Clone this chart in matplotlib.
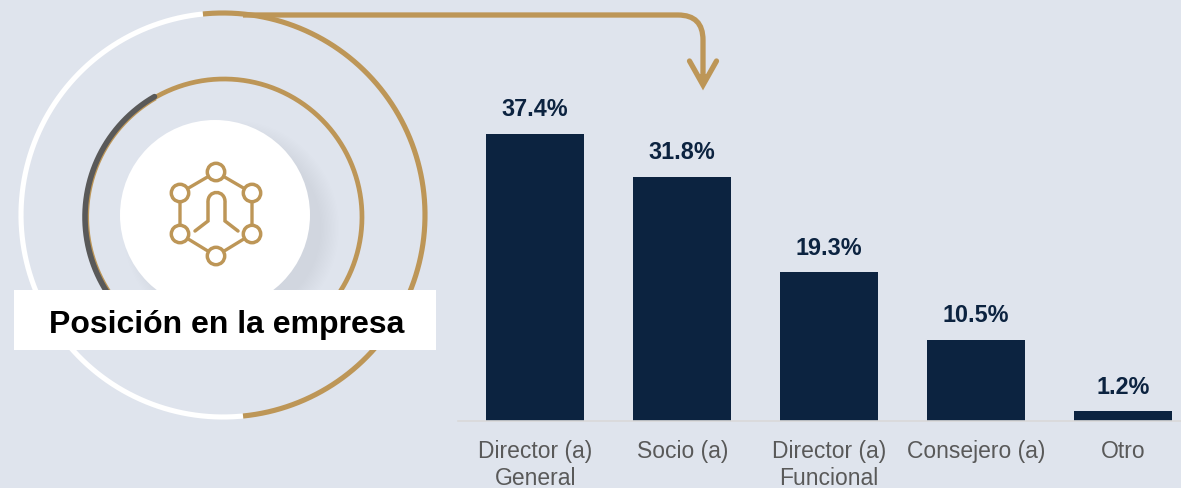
import matplotlib
matplotlib.use("Agg")
import matplotlib.pyplot as plt
from matplotlib.patches import Circle, Rectangle, PathPatch, Polygon
from matplotlib.path import Path
import numpy as np

# Chart data
categories = ["Director (a)\nGeneral", "Socio (a)", "Director (a)\nFuncional", "Consejero (a)", "Otro"]
values = [37.4, 31.8, 19.3, 10.5, 1.2]

BG = "#DFE4ED"
GOLD = "#BD9657"
NAVY = "#0C2340"
GREY = "#595959"
W, H = 1181, 488

plt.rcParams["font.family"] = ["Liberation Sans", "DejaVu Sans"]

fig = plt.figure(figsize=(W / 100, H / 100), dpi=100, facecolor=BG)

# Overlay in pixel coordinates for the decoration on the left
deco = fig.add_axes([0, 0, 1, 1], facecolor="none")
deco.set_xlim(0, W)
deco.set_ylim(H, 0)
deco.axis("off")


def arc(cx, cy, r, a0, a1, color, lw, zorder=2, cap="butt"):
    t = np.radians(np.linspace(a0, a1, 200))
    deco.plot(cx + r * np.cos(t), cy - r * np.sin(t), color=color, lw=lw,
              solid_capstyle=cap, zorder=zorder)


# Outer ring
arc(223, 215, 202, 95.7, 275.7, "white", 3.7)
arc(223, 215, 202, -84.3, 95.7, GOLD, 3.7)

# Inner ring
arc(224, 217, 138, -45, 120, GOLD, 3.4)
arc(224, 217, 136, 120, 225, GOLD, 1.5)
arc(224, 217, 139, 120, 225, GREY, 4.0, zorder=3, cap="round")

# Soft shadow and centre disc
for r in np.linspace(108, 90, 14):
    deco.add_patch(Circle((231, 228), r, facecolor="#8090A8", edgecolor="none", alpha=0.008, zorder=4))
deco.add_patch(Circle((215, 215), 95, facecolor="white", edgecolor="none", zorder=5))

# Icon: hexagon of nodes
nodes_x = [216, 252, 252, 216, 180, 180]
nodes_y = [172, 193, 234, 256, 234, 193]
deco.plot(nodes_x + nodes_x[:1], nodes_y + nodes_y[:1], color=GOLD, lw=2.4, zorder=6)
for nx, ny in zip(nodes_x, nodes_y):
    deco.add_patch(Circle((nx, ny), 8.7, facecolor="white", edgecolor=GOLD, lw=2.5, zorder=7))

# Icon: person
person = Path(
    [(195, 231), (208, 221), (208, 203), (207, 189), (226, 189), (225, 203), (225, 221), (238, 231)],
    [Path.MOVETO, Path.LINETO, Path.LINETO, Path.CURVE4, Path.CURVE4, Path.CURVE4, Path.LINETO, Path.LINETO],
)
deco.add_patch(PathPatch(person, facecolor="none", edgecolor=GOLD, lw=2.5, capstyle="round", zorder=7))

# Title box
deco.add_patch(Rectangle((14, 290), 422, 60, facecolor="white", edgecolor="none", zorder=8))
deco.text(226.5, 325, "Posición en la empresa", ha="center", va="center", fontsize=23,
          fontweight="bold", color="black", zorder=9)

# Connector arrow
arrow = Path(
    [(243, 15), (678, 15), (703, 15), (703, 40), (703, 80)],
    [Path.MOVETO, Path.LINETO, Path.CURVE3, Path.CURVE3, Path.LINETO],
)
deco.add_patch(PathPatch(arrow, facecolor="none", edgecolor=GOLD, lw=3.8, capstyle="butt", zorder=3))
deco.plot([689.5, 703, 716.5], [61, 85, 61], color=GOLD, lw=3.8, solid_capstyle="round",
          solid_joinstyle="miter", zorder=3)
deco.add_patch(Polygon([(697, 74), (709, 74), (703, 85)], facecolor=GOLD, edgecolor="none", zorder=3))

# Bars
left, right, base, top = 458, 1181, 420.5, 60
ax = fig.add_axes([left / W, 1 - base / H, (right - left) / W, (base - top) / H], facecolor="none")
pos = np.arange(len(values))
bars = ax.bar(pos, values, width=98 / 147, color=NAVY)
ax.set_xlim((left - 535.2) / 147, (right - 535.2) / 147)
ax.set_ylim(0, (base - top) / 7.67)
ax.bar_label(bars, labels=[f"{v:.1f}%" for v in values], padding=9, fontsize=16.8,
             fontweight="bold", color=NAVY)
ax.set_xticks(pos)
ax.set_xticklabels(categories, fontsize=16.5, color=GREY, linespacing=1.2)
ax.tick_params(axis="x", length=0, pad=14)
ax.set_yticks([])
for s in ["top", "left", "right"]:
    ax.spines[s].set_visible(False)
ax.spines["bottom"].set_color("#D9D9D9")
ax.spines["bottom"].set_linewidth(1.2)

fig.savefig("out.png", dpi=100, facecolor=BG)
